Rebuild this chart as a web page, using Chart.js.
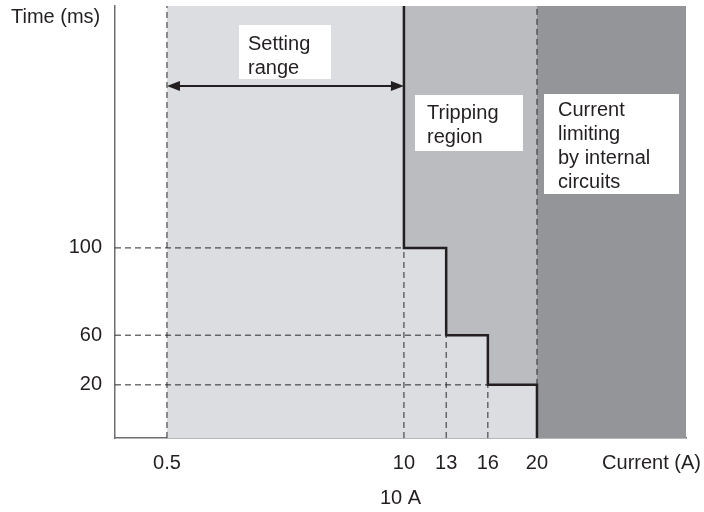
<!DOCTYPE html>
<html>
<head>
<meta charset="utf-8">
<script src="https://cdn.jsdelivr.net/npm/chart.js@4.4.1/dist/chart.umd.min.js"></script>
<style>
  html, body { margin: 0; padding: 0; background: #fff; }
  #wrap { width: 704px; height: 512px; }
</style>
</head>
<body>
<div id="wrap"><canvas id="chart" width="704" height="512"></canvas></div>
<script>
// Schematic trip curve (axes are not to scale, so each label has its own spot on a 0-100 axis)
const currentLabels = ['0.5', '10', '13', '16', '20'];
const currentPos = [9.1, 50.6, 58.0, 65.3, 73.9];
const timeLabels = ['20', '60', '100'];
const timePos = [12.3, 23.8, 44.0];
const X_MAX = 100, Y_MAX = 100;
const arrowAt = 81.5;

const INK = '#231f20';
const FONT = "'Liberation Sans', Arial, sans-serif";

const [c05, c10, c13, c16, c20] = currentPos;
const [t20, t60, t100] = timePos;

// trip characteristic: step down from 100 ms at 10 A to 0 at 20 A
const tripCurve = [
    { x: c10, y: Y_MAX }, { x: c10, y: t100 },
    { x: c13, y: t100 }, { x: c13, y: t60 },
    { x: c16, y: t60 }, { x: c16, y: t20 },
    { x: c20, y: t20 }, { x: c20, y: 0 }
];
const settingBand = [{ x: c05, y: Y_MAX }, { x: c10, y: Y_MAX }];
const trippingBand = [{ x: c10, y: Y_MAX }, { x: c20, y: Y_MAX }];
const limitingBand = [{ x: c20, y: Y_MAX }, { x: X_MAX, y: Y_MAX }];

// dashed guide lines, null breaks the path
const gap = { x: 0, y: null };
const guides = [
    { x: c05, y: 0 }, { x: c05, y: Y_MAX }, gap,
    { x: c10, y: 0 }, { x: c10, y: t100 }, gap,
    { x: c13, y: 0 }, { x: c13, y: t60 }, gap,
    { x: c16, y: 0 }, { x: c16, y: t20 }, gap,
    { x: c20, y: t20 }, { x: c20, y: Y_MAX }, gap,
    { x: 0, y: t100 }, { x: c10, y: t100 }, gap,
    { x: 0, y: t60 }, { x: c13, y: t60 }, gap,
    { x: 0, y: t20 }, { x: c16, y: t20 }
];

const band = (data, color, order) => ({
    data, order,
    borderWidth: 0, borderColor: 'transparent',
    backgroundColor: color, fill: 'origin', pointRadius: 0
});

// boxes with text, in pixels
const notes = [
    { box: [239, 25, 92, 54], x: 248, lines: ['Setting', 'range'], y: 50 },
    { box: [415, 95, 108, 56], x: 427, lines: ['Tripping', 'region'], y: 119 },
    { box: [544, 94, 135, 100], x: 558, lines: ['Current', 'limiting', 'by internal', 'circuits'], y: 116 }
];

const annotations = {
    id: 'annotations',
    afterDatasetsDraw(chart) {
        const { ctx, scales: { x, y } } = chart;
        ctx.save();

        // double arrow for setting range
        const ay = y.getPixelForValue(arrowAt);
        const ax0 = x.getPixelForValue(c05), ax1 = x.getPixelForValue(c10);
        ctx.strokeStyle = INK; ctx.fillStyle = INK; ctx.lineWidth = 2;
        ctx.beginPath(); ctx.moveTo(ax0 + 8, ay); ctx.lineTo(ax1 - 8, ay); ctx.stroke();
        ctx.beginPath();
        ctx.moveTo(ax0, ay); ctx.lineTo(ax0 + 13, ay - 5); ctx.lineTo(ax0 + 13, ay + 5); ctx.closePath();
        ctx.moveTo(ax1, ay); ctx.lineTo(ax1 - 13, ay - 5); ctx.lineTo(ax1 - 13, ay + 5); ctx.closePath();
        ctx.fill();

        ctx.font = '20px ' + FONT;
        ctx.textBaseline = 'alphabetic';
        ctx.textAlign = 'left';
        notes.forEach(n => {
            ctx.fillStyle = '#fff';
            ctx.fillRect(...n.box);
            ctx.fillStyle = INK;
            n.lines.forEach((t, i) => ctx.fillText(t, n.x, n.y + i * 24));
        });

        ctx.fillText('Time (ms)', 11, 23);
        ctx.textAlign = 'right';
        ctx.fillText('Current (A)', 701, 469);
        ctx.textAlign = 'center';
        ctx.fillText('10 A', x.getPixelForValue(X_MAX / 2), 504);
        ctx.restore();
    }
};

new Chart(document.getElementById('chart'), {
    type: 'line',
    data: {
        datasets: [
            {
                data: tripCurve, order: 1,
                borderColor: INK, borderWidth: 2.5, pointRadius: 0,
                backgroundColor: '#dcdde0', fill: 'origin'
            },
            {
                data: guides, order: 0,
                borderColor: '#2a2a2c', borderWidth: 1, borderDash: [6, 4],
                pointRadius: 0, fill: false, spanGaps: false
            },
            band(settingBand, '#dcdde0', 3),
            band(trippingBand, '#bbbcc0', 4),
            band(limitingBand, '#939598', 5)
        ]
    },
    options: {
        responsive: false,
        animation: false,
        layout: { padding: { top: 6, right: 18, left: 0, bottom: 0 } },
        plugins: { legend: { display: false }, tooltip: { enabled: false } },
        scales: {
            x: {
                type: 'linear', min: 0, max: X_MAX,
                grid: { display: false },
                border: { display: true, color: '#6d6e71', width: 1.5 },
                afterBuildTicks: s => { s.ticks = currentPos.map(v => ({ value: v })); },
                afterFit: s => { s.height = 74; s.paddingLeft = 0; s.paddingRight = 0; },
                ticks: {
                    autoSkip: false, maxRotation: 0, padding: 5,
                    color: INK, font: { family: FONT, size: 20 },
                    callback: (v, i) => currentLabels[i]
                }
            },
            y: {
                type: 'linear', min: 0, max: Y_MAX,
                grid: { display: false },
                border: { display: true, color: '#6d6e71', width: 1.5 },
                afterBuildTicks: s => { s.ticks = timePos.map(v => ({ value: v })); },
                afterFit: s => { s.width = 115; s.paddingTop = 0; s.paddingBottom = 0; },
                ticks: {
                    autoSkip: false, padding: 5,
                    color: INK, font: { family: FONT, size: 20 },
                    callback: (v, i) => timeLabels[i]
                }
            }
        }
    },
    plugins: [annotations]
});
</script>
</body>
</html>
